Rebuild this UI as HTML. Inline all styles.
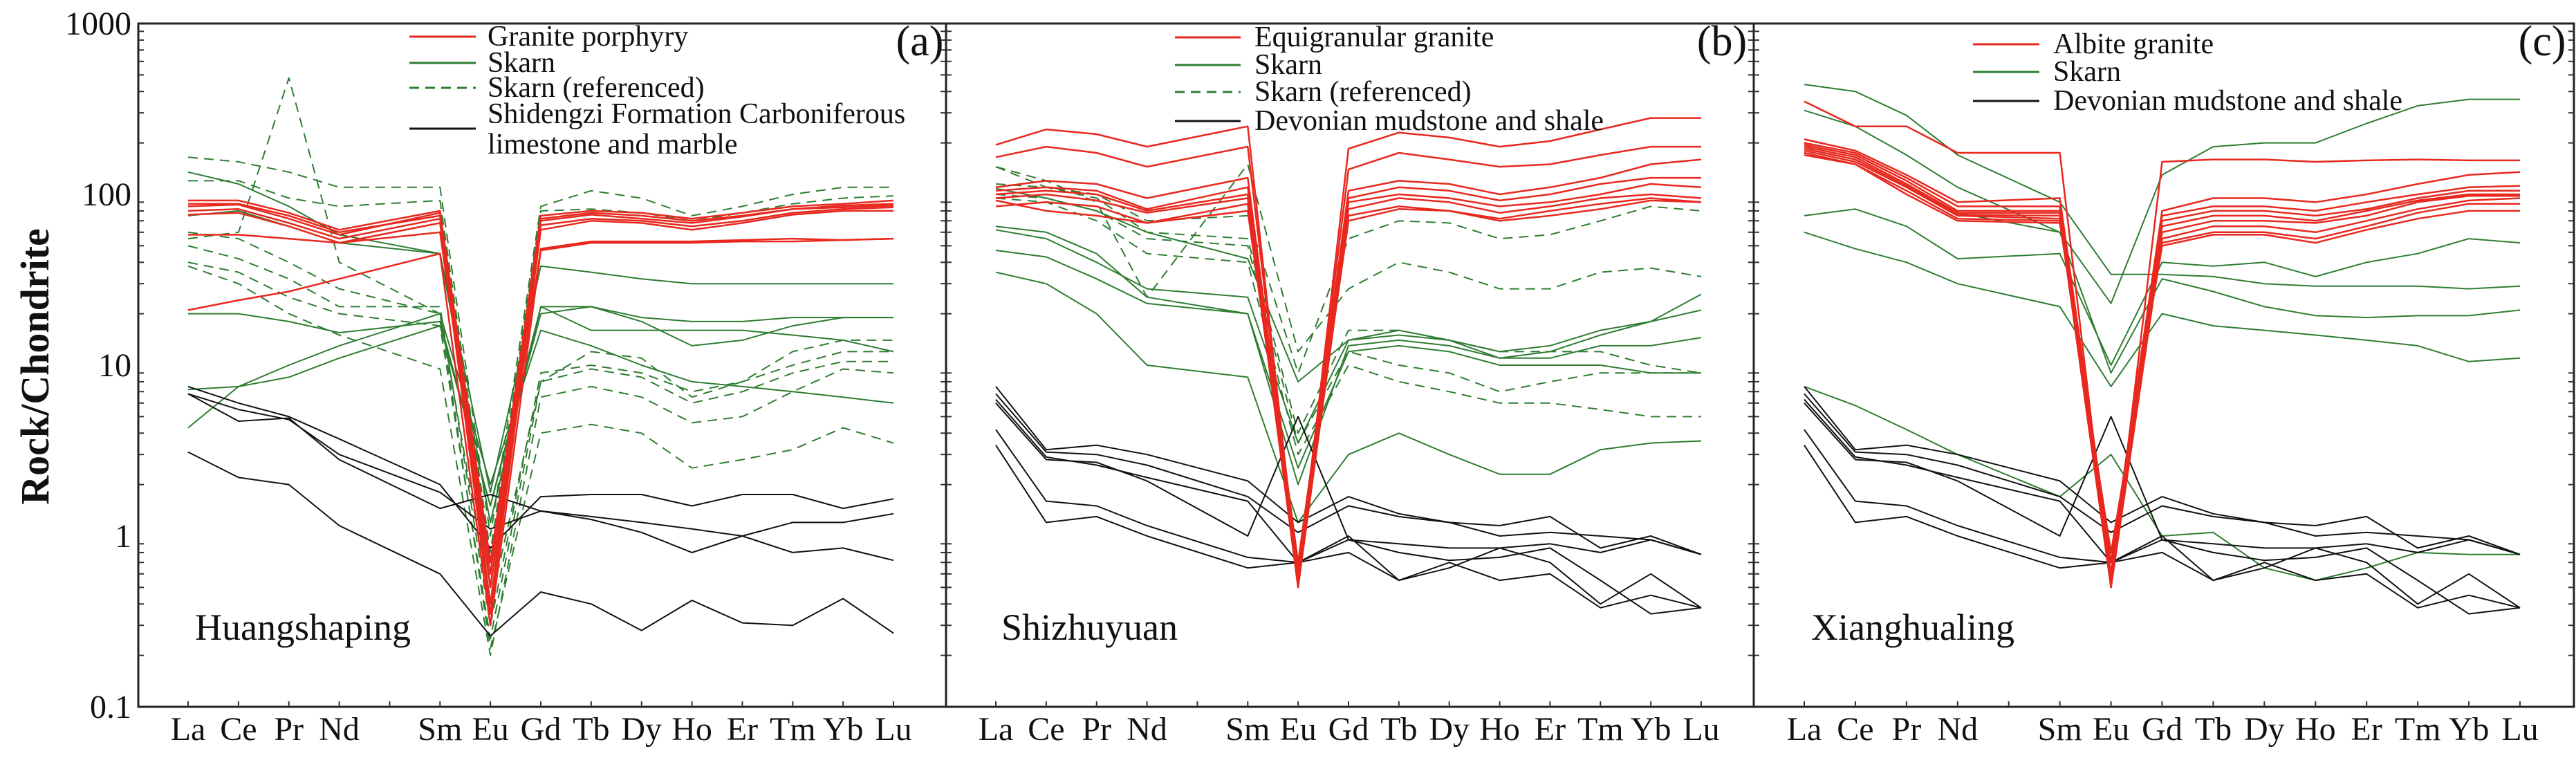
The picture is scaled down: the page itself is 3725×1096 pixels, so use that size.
<!DOCTYPE html>
<html><head><meta charset="utf-8"><style>
html,body{margin:0;padding:0;background:#fff}
svg{display:block;font-family:"Liberation Serif","DejaVu Serif",serif}
svg text{font-family:"Liberation Serif","DejaVu Serif",serif;fill:#111}
</style></head><body>
<svg id="chart" width="3725" height="1096" viewBox="0 0 3725 1096" xmlns="http://www.w3.org/2000/svg" font-family="Liberation Serif, DejaVu Serif, serif">
<g id="axes"></g>
<g id="series"></g>
<g id="labels" font-family="Liberation Serif, DejaVu Serif, serif"></g>
</svg>
<script>
const elements = ["La","Ce","Pr","Nd","Sm","Eu","Gd","Tb","Dy","Ho","Er","Tm","Yb","Lu"];
const slotIndex = [0,1,2,3,5,6,7,8,9,10,11,12,13,14];
const yTicks = [1000,100,10,1,0.1];
const yTickLabels = ["1000","100","10","1","0.1"];

// Panel (a) Huangshaping
const aGranite = [
 [92,92,78,62,80,0.7,75,80,78,72,78,85,88,92],
 [85,87,72,58,78,0.5,70,76,72,68,74,82,86,88],
 [80,82,68,55,72,0.4,66,72,70,65,70,78,82,84],
 [76,78,65,52,68,0.35,62,70,68,62,68,76,80,80],
 [88,88,75,60,75,0.6,72,78,75,70,75,82,84,86],
 [58,58,55,52,60,0.5,48,53,53,53,54,55,54,55],
 [21,24,27,32,45,0.3,47,52,52,52,53,53,54,55]];
const aSkarn = [
 [135,115,85,58,45,1.8,38,35,32,30,30,30,30,30],
 [20,20,18,15.5,18,1.5,22,22,18,13,14,17,19,19],
 [4.3,7.5,10,13,20,2,16,13,10,8,7.5,7,6.5,6],
 [7.2,7.5,8.5,11,17,1.5,20,22,19,18,18,19,19,19],
 [75,80,65,52,45,1.2,22,16,16,16,16,15,14,12]];
const aSkarnRef = [
 [165,155,135,110,110,1.0,85,105,95,75,85,100,110,110],
 [120,120,95,85,92,0.8,80,82,78,70,78,88,95,98],
 [55,60,480,40,20,0.4,8,12,11,6.5,8,12,14,14],
 [50,42,32,22,22,0.3,9,10,9,7,8,10,12,12],
 [40,35,25,20,17,0.25,8,9.5,8.5,6,7,9,10.5,10.5],
 [38,30,20,15,9.5,0.2,6.5,7.5,6.5,4.6,5,7,9.5,9],
 [60,55,40,28,20,0.22,4,4.5,4,2.5,2.8,3.2,4.3,3.5]];
const aHost = [
 [7.5,6,5,3.7,2,0.85,1.7,1.75,1.75,1.5,1.75,1.75,1.45,1.65],
 [6.8,5.5,4.8,3,1.8,1.1,1.4,1.3,1.2,1.1,1,0.8,0.85,0.72],
 [6.8,4.7,4.9,2.8,1.45,1.75,1.4,1.25,1.05,0.8,1,1.2,1.2,1.35],
 [3.1,2.2,2,1.15,0.6,0.26,0.47,0.4,0.28,0.42,0.31,0.3,0.43,0.27]];

// Panel (b) Shizhuyuan
const bGranite = [
 [195,240,225,190,250,0.55,185,230,215,190,205,240,280,280],
 [165,190,175,145,190,0.6,140,175,160,145,150,170,190,190],
 [110,120,115,95,125,0.65,105,120,115,100,110,125,150,160],
 [105,110,105,82,110,0.7,95,110,105,92,100,115,125,125],
 [100,105,100,80,100,0.55,90,100,95,85,90,100,115,110],
 [95,100,92,78,95,0.6,82,95,90,78,85,95,100,95],
 [85,90,85,68,88,0.5,75,85,80,72,80,88,95,90],
 [92,80,75,68,80,0.6,70,82,80,70,75,82,92,90]];
const bSkarn = [
 [108,95,80,60,42,8,14,15,14,12,13,16,18,21],
 [62,55,40,28,25,3.5,14,16,14,11,12,15,18,26],
 [47,43,32,23,20,2.5,12,13,12,10,10,10,9,9],
 [35,30,20,10,8.5,1.2,3,4,3,2.3,2.3,3.2,3.5,3.6],
 [65,60,45,25,20,2,13,14,13,11,11,13,13,14.5]];
const bSkarnRef = [
 [145,120,90,25,150,12,28,40,35,28,28,35,37,33],
 [145,110,100,70,75,9,55,70,68,55,58,70,85,80],
 [115,110,95,60,55,4,16,16,14,12,12,12,10,9],
 [100,95,80,55,50,3.5,12,10,9,7,8,9,9,9],
 [95,90,70,45,40,3,10,8,7,6,6,5.5,5,5]];
const devonian = [
 [7.5,3.2,3.4,3.0,2.1,1.2,1.7,1.35,1.2,1.15,1.3,0.85,1.0,0.78],
 [6.8,3.1,3.0,2.6,1.7,1.05,1.5,1.3,1.2,1.0,1.05,1.0,0.95,0.78],
 [6.3,2.9,2.6,2.2,1.6,0.7,1.0,0.55,0.65,0.85,0.7,0.4,0.6,0.38],
 [6,2.8,2.7,2.1,1.0,5,0.95,0.8,0.72,0.75,0.85,0.55,0.35,0.38],
 [4.2,1.6,1.5,1.15,0.75,0.7,0.95,0.9,0.85,0.85,0.9,0.8,0.95,0.78],
 [3.4,1.2,1.3,1.0,0.65,0.7,0.8,0.55,0.7,0.55,0.6,0.38,0.45,0.38]];

// Panel (c) Xianghualing
const cGranite = [
 [350,250,250,175,175,0.5,155,160,160,155,158,160,158,158],
 [210,180,130,90,95,0.7,80,95,95,90,100,115,130,135],
 [200,175,125,85,85,0.6,75,85,85,80,90,100,110,112],
 [195,170,120,80,80,0.6,70,80,80,75,82,95,105,105],
 [190,165,115,78,78,0.55,65,75,75,70,80,92,100,100],
 [185,160,112,76,75,0.6,60,70,70,68,75,90,98,98],
 [180,155,110,75,72,0.5,55,65,65,60,70,82,92,95],
 [175,150,105,72,70,0.7,52,60,60,55,65,78,88,88],
 [170,150,100,70,68,0.8,50,58,58,52,62,72,80,80]];
const cSkarn = [
 [440,400,290,170,90,34,34,33,30,29,29,29,28,29],
 [310,250,170,110,60,23,130,190,200,200,260,330,360,360],
 [75,82,65,42,45,10,40,38,40,33,40,45,55,52],
 [60,48,40,30,22,7.5,20,17,16,15,14,13,10.5,11],
 [190,165,115,78,60,9,32,27,22,19.5,19,19.5,19.5,21],
 [7.5,5.8,4.2,3,1.7,3,1,1.05,0.65,0.55,0.65,0.8,0.78,0.78]];

const NS = "http://www.w3.org/2000/svg";
const FONT = "Liberation Serif, DejaVu Serif, serif";
const Y0 = 34, DEC = 247;
function yScale(v){ return Y0 + (3 - Math.log10(v)) * DEC; }
const panels = [
 {left:200, right:1368, x0:272, x14:1292},
 {left:1368, right:2536, x0:1440, x14:2460},
 {left:2536, right:3722, x0:2609, x14:3644}];
function xScale(p, slot){ return p.x0 + (p.x14 - p.x0) * slot / 14; }
function mk(tag, attrs, parent){ const e=document.createElementNS(NS,tag); for(const k in attrs) e.setAttribute(k,attrs[k]); if(tag==='text') e.setAttribute('font-family',FONT); parent.appendChild(e); return e; }

const axes = document.getElementById('axes');
const series = document.getElementById('series');
const labels = document.getElementById('labels');

panels.forEach((p,pi)=>{
  const r = mk('rect',{x:p.left,y:Y0,width:p.right-p.left,height:yScale(0.1)-Y0,fill:'none',stroke:'#222','stroke-width':3},axes);
  
  
  for(let s=0;s<15;s++){
    const x=xScale(p,s);
    const t=mk('line',{x1:x,x2:x,y1:yScale(0.1),y2:yScale(0.1)-8,stroke:'#333','stroke-width':2},axes);
    
    
  }
  for(let d=-1; d<3; d++){
    for(let m=2;m<=9;m++){
      const y=yScale(m*Math.pow(10,d));
      [p.left, p.right].forEach((ex,ei)=>{
        const t=mk('line',{x1:ex,x2:ex+(ei?-8:8),y1:y,y2:y,stroke:'#333','stroke-width':2},axes);
        
        
      });
    }
  }
  elements.forEach((el,i)=>{
    const t=mk('text',{x:xScale(p,slotIndex[i]),y:1070,'font-size':48,'text-anchor':'middle'},labels);
    t.textContent=el;
    
    
  });
});
yTicks.forEach((v,i)=>{
  const t=mk('text',{x:190,y:yScale(v)+16,'font-size':48,'text-anchor':'end'},labels);
  t.textContent=yTickLabels[i];
  
  
});
const yt=mk('text',{x:0,y:0,'font-size':58,'font-weight':'bold','text-anchor':'middle',transform:'translate(70,530) rotate(-90)'},labels);
yt.textContent='Rock/Chondrite';



function drawGroup(p, data, color, width, dash, name){
  data.forEach((row)=>{
    const pts=row.map((v,i)=>xScale(p,slotIndex[i]).toFixed(1)+','+yScale(v).toFixed(1)).join(' ');
    const pl=mk('polyline',{points:pts,fill:'none',stroke:color,'stroke-width':width,'stroke-linejoin':'round'},series);
    if(dash) pl.setAttribute('stroke-dasharray',dash);
    
    
  });
}
const RED='#e8281e', GREEN='#2e7d32', BLACK='#111';
drawGroup(panels[0], aSkarnRef, GREEN, 2, '14 9', 'skarn-referenced-line');
drawGroup(panels[0], aSkarn, GREEN, 2, null, 'skarn-line');
drawGroup(panels[0], aHost, BLACK, 2, null, 'limestone-marble-line');
drawGroup(panels[0], aGranite, RED, 2.5, null, 'granite-porphyry-line');
drawGroup(panels[1], bSkarnRef, GREEN, 2, '14 9', 'skarn-referenced-line');
drawGroup(panels[1], bSkarn, GREEN, 2, null, 'skarn-line');
drawGroup(panels[1], devonian, BLACK, 2, null, 'mudstone-shale-line');
drawGroup(panels[1], bGranite, RED, 2.5, null, 'equigranular-granite-line');
drawGroup(panels[2], cSkarn, GREEN, 2, null, 'skarn-line');
drawGroup(panels[2], devonian, BLACK, 2, null, 'mudstone-shale-line');
drawGroup(panels[2], cGranite, RED, 2.5, null, 'albite-granite-line');

function legend(x1,x2,tx,rows){
  rows.forEach(r=>{
    if(r.color){
      const l=mk('line',{x1:x1,x2:x2,y1:r.y,y2:r.y,stroke:r.color,'stroke-width':3},labels);
      if(r.dash) l.setAttribute('stroke-dasharray',r.dash);
      
      
    }
    (r.text||[]).forEach((tt,k)=>{
      const t=mk('text',{x:tx,y:r.ty+k*44,'font-size':42},labels);
      t.textContent=tt;
      
      
    });
  });
}
legend(592,688,705,[
 {color:RED,y:53,ty:66,text:['Granite porphyry']},
 {color:GREEN,y:91,ty:104,text:['Skarn']},
 {color:GREEN,dash:'14 9',y:127,ty:140,text:['Skarn (referenced)']},
 {color:BLACK,y:186,ty:178,text:['Shidengzi Formation Carboniferous','limestone and marble']}]);
legend(1699,1794,1814,[
 {color:RED,y:54,ty:67,text:['Equigranular  granite']},
 {color:GREEN,y:94,ty:107,text:['Skarn']},
 {color:GREEN,dash:'14 9',y:133,ty:146,text:['Skarn (referenced)']},
 {color:BLACK,y:175,ty:188,text:['Devonian mudstone and shale']}]);
legend(2853,2949,2969,[
 {color:RED,y:64,ty:77,text:['Albite  granite']},
 {color:GREEN,y:104,ty:117,text:['Skarn']},
 {color:BLACK,y:146,ty:159,text:['Devonian mudstone and shale']}]);

[['(a)',1330],['(b)',2490],['(c)',3676]].forEach(([s,x])=>{
  const t=mk('text',{x:x,y:80,'font-size':62,'text-anchor':'middle'},labels);
  t.textContent=s;
  
  
});
[['Huangshaping',282],['Shizhuyuan',1448],['Xianghualing',2619]].forEach(([s,x])=>{
  const t=mk('text',{x:x,y:925,'font-size':54},labels);
  t.textContent=s;
  
  
});
</script>
</body></html>
